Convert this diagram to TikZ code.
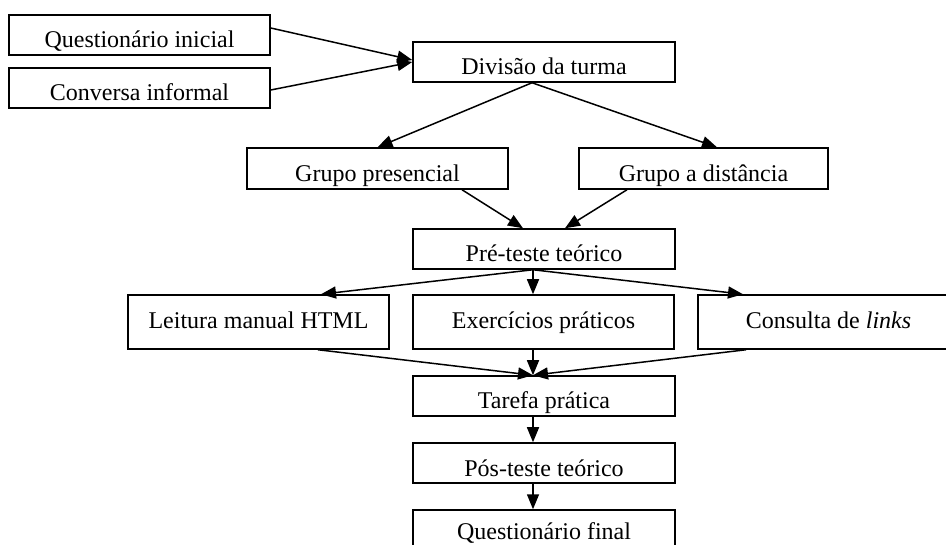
\documentclass[tikz,border=0pt]{standalone}
\usepackage{fontspec}
\setmainfont{Liberation Serif}
\usetikzlibrary{arrows.meta}

\begin{document}
\begin{tikzpicture}[x=1pt,y=-1pt,
    box/.style={draw,line width=1.5pt,minimum height=40pt,inner sep=0pt,
        text height=26pt,text depth=0pt,font=\fontsize{24}{28}\selectfont},
    tallbox/.style={box,minimum height=54pt,text height=14pt},
    flow/.style={line width=1.5pt,-{Triangle[length=15pt,width=12pt]}}]
\useasboundingbox (0,0) rectangle (946,545);

    \node[box,minimum width=261pt] (qini) at (139.5,35) {Questionário inicial};
    \node[box,minimum width=261pt] (conv) at (139.5,88) {Conversa informal};
    \node[box,minimum width=262pt] (div) at (544,62) {Divisão da turma};

    \node[box,minimum width=261pt,minimum height=41pt] (gpres) at (377.5,168.5) {Grupo presencial};
    \node[box,minimum width=249pt,minimum height=41pt] (gdist) at (703.5,168.5) {Grupo a distância};
    \node[box,minimum width=262pt] (pre) at (544,249) {Pré-teste teórico};

    \node[tallbox,minimum width=261pt] (leit) at (258.5,322) {Leitura manual HTML};
    \node[tallbox,minimum width=261pt] (exer) at (543.5,322) {Exercícios práticos};
    \node[tallbox,minimum width=261pt] (cons) at (828.5,322) {Consulta de \textit{links}};

    \node[box,minimum width=262pt] (tar) at (544,396) {Tarefa prática};
    \node[box,minimum width=262pt] (pos) at (544,463) {Pós-teste teórico};
    \node[box,minimum width=262pt,text height=18pt] (qfin) at (544,530) {Questionário final};

    \draw[flow] ([yshift=7pt]qini.east) -- ([yshift=2pt]div.west);
    \draw[flow] ([yshift=-2pt]conv.east) -- (div.west);
    \draw[flow] ([xshift=-12pt]div.south) -- (gpres.north);
    \draw[flow] ([xshift=-12pt]div.south) -- ([xshift=13.5pt]gdist.north);
    \draw[flow] ([xshift=84.5pt]gpres.south) -- ([xshift=-21pt]pre.north);
    \draw[flow] ([xshift=-76.5pt]gdist.south) -- ([xshift=21pt]pre.north);
    \draw[flow] ([xshift=-11pt]pre.south) -- ([xshift=62.5pt]leit.north);
    \draw[flow] ([xshift=-11pt]pre.south) -- ([xshift=-10.5pt]exer.north);
    \draw[flow] ([xshift=-11pt]pre.south) -- ([xshift=-85.5pt]cons.north);
    \draw[flow] ([xshift=59.5pt]leit.south) -- ([xshift=-11pt]tar.north);
    \draw[flow] ([xshift=-10.5pt]exer.south) -- ([xshift=-11pt]tar.north);
    \draw[flow] ([xshift=-82.5pt]cons.south) -- ([xshift=-11pt]tar.north);
    \draw[flow] ([xshift=-11pt]tar.south) -- ([xshift=-11pt]pos.north);
    \draw[flow] ([xshift=-11pt]pos.south) -- ([xshift=-11pt]qfin.north);
\end{tikzpicture}
\end{document}
